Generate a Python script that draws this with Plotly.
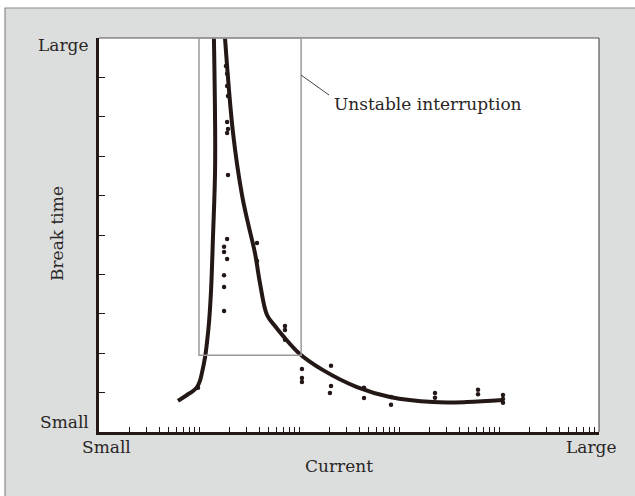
import plotly.graph_objects as go

current_pts = [18.6, 19.1, 19.1, 19.5, 19.1, 19.5, 19.1, 19.5, 19.1, 17.8, 17.8, 19.1,
               17.8, 17.8, 17.8, 38.0, 38.0, 72.4, 72.4, 72.4, 9.77, 107, 107, 107,
               209, 209, 204, 447, 447, 832, 832, 2290, 2290, 6170, 6170, 10960, 10960, 10960]
break_pts = [9.29, 9.09, 8.78, 8.53, 7.87, 7.69, 7.59, 6.52, 4.90, 4.70, 4.57, 4.39,
             3.98, 3.68, 3.07, 4.80, 4.34, 2.69, 2.59, 2.34, 1.12, 1.60, 1.37, 1.27,
             1.68, 1.17, 0.99, 1.12, 0.86, 0.89, 0.69, 0.99, 0.87, 1.07, 0.96, 0.94, 0.84, 0.74]

# Fitted characteristic curve: left (rising) branch and right (falling) branch
curve_left_x = [6.17, 7.59, 8.71, 9.55, 10.2, 10.7, 11.5, 12.0, 12.6, 13.2, 13.8, 14.5, 14.1]
curve_left_y = [0.79, 0.94, 1.04, 1.14, 1.29, 1.50, 1.90, 2.26, 2.79, 3.60, 4.95, 6.78, 10.0]
curve_right_x = [18.2, 21.9, 26.9, 30.9, 36.3, 40.7, 47.9, 57.5, 69.2, 102, 174, 380, 813, 2188, 4786, 10965]
curve_right_y = [10.0, 7.59, 6.02, 5.30, 4.54, 3.78, 2.97, 2.69, 2.44, 1.98, 1.57, 1.14, 0.89, 0.76, 0.76, 0.81]

# Unstable-interruption region
region_x = [10, 105]
region_y = [1.95, 10]

x_tick_vals = [m * 10 ** k for k in range(0, 5) for m in range(1, 10)] + [1e5]
y_tick_vals = list(range(0, 11))

INK = "#231815"
TXT = "#2a2626"
FONT = "DejaVu Serif"

fig = go.Figure()
fig.add_trace(go.Scatter(x=curve_left_x, y=curve_left_y, mode="lines",
                         line=dict(color=INK, width=4, shape="spline", smoothing=1.0),
                         hoverinfo="skip"))
fig.add_trace(go.Scatter(x=curve_right_x, y=curve_right_y, mode="lines",
                         line=dict(color=INK, width=4, shape="spline", smoothing=1.0),
                         hoverinfo="skip"))
fig.add_trace(go.Scatter(x=current_pts, y=break_pts, mode="markers",
                         marker=dict(color=INK, size=4.5)))

W, H = 635, 496
L, R, T, B = 99, 36, 38, 64
pw, ph = W - L - R, H - T - B


def px(xp):
    return (xp - L) / pw


def py(yp):
    return (H - B - yp) / ph


shapes = [
    # grey outer frame
    dict(type="rect", xref="paper", yref="paper", x0=px(5), x1=px(645), y0=py(505), y1=py(8),
         fillcolor="#dcdedd", line=dict(color="#8a8a8a", width=1.2), layer="below"),
    # white plot area
    dict(type="rect", xref="paper", yref="paper", x0=0, x1=1, y0=0, y1=1,
         fillcolor="white", line=dict(width=0), layer="below"),
    # top and right thin borders of plot area
    dict(type="line", xref="paper", yref="paper", x0=0, x1=1, y0=1, y1=1,
         line=dict(color="#555050", width=1.2)),
    dict(type="line", xref="paper", yref="paper", x0=1, x1=1, y0=0, y1=1,
         line=dict(color="#3a3636", width=1)),
    # unstable interruption box
    dict(type="rect", xref="x", yref="y", x0=region_x[0], x1=region_x[1],
         y0=region_y[0], y1=region_y[1], line=dict(color="#9a9a9a", width=1.5)),
    # leader line
    dict(type="line", xref="paper", yref="paper", x0=px(301), y0=py(75), x1=px(329), y1=py(95),
         line=dict(color="#444", width=1)),
]

annotations = [
    dict(text="Unstable interruption", x=px(332), y=py(104), xanchor="left", yanchor="middle"),
    dict(text="Large", x=px(91), y=py(45), xanchor="right", yanchor="middle"),
    dict(text="Small", x=px(91), y=py(422), xanchor="right", yanchor="middle"),
    dict(text="Small", x=px(106), y=py(447), xanchor="center", yanchor="middle"),
    dict(text="Large", x=px(591), y=py(447), xanchor="center", yanchor="middle"),
    dict(text="Current", x=px(339), y=py(466), xanchor="center", yanchor="middle"),
    dict(text="Break time", x=px(57), y=py(234), xanchor="center", yanchor="middle", textangle=-90),
]
for a in annotations:
    a.update(xref="paper", yref="paper", showarrow=False,
             font=dict(family=FONT, size=17, color=TXT))

fig.update_layout(
    width=W, height=H, autosize=False,
    margin=dict(l=L, r=R, t=T, b=B, pad=0),
    paper_bgcolor="white", plot_bgcolor="white",
    showlegend=False,
    shapes=shapes, annotations=annotations,
    xaxis=dict(type="log", range=[0, 5], showline=True, linewidth=3, linecolor=INK,
               ticks="inside", ticklen=5, tickwidth=1, tickcolor=INK,
               tickvals=x_tick_vals, showticklabels=False, showgrid=False, zeroline=False),
    yaxis=dict(range=[0, 10], showline=True, linewidth=3, linecolor=INK,
               ticks="inside", ticklen=6, tickwidth=1, tickcolor=INK,
               tickvals=y_tick_vals, showticklabels=False, showgrid=False, zeroline=False),
)

fig.write_html("out.html", config={"displayModeBar": False},
               post_script="document.body.style.margin='0';")
